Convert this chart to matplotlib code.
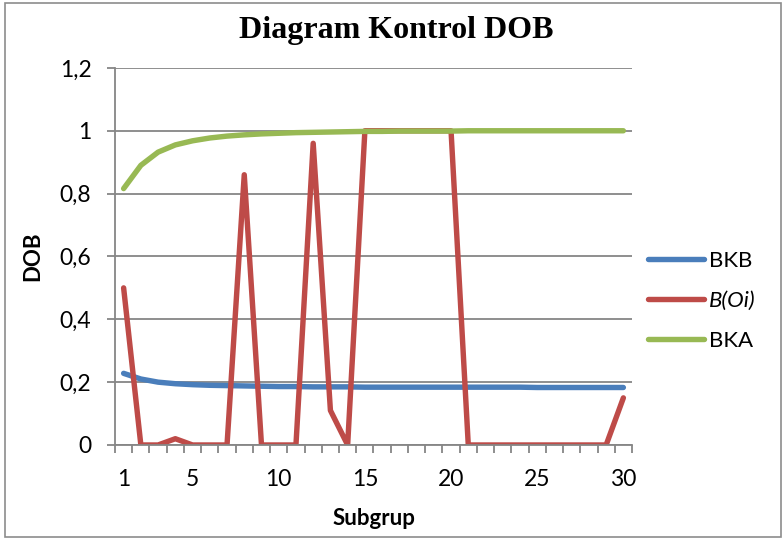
import matplotlib
matplotlib.use("Agg")
import matplotlib.pyplot as plt
from matplotlib.ticker import FuncFormatter, FixedLocator

subgrup = list(range(1, 31))
bkb = [0.228, 0.21, 0.200, 0.195, 0.192, 0.190, 0.189, 0.188, 0.187, 0.186,
       0.186, 0.185, 0.185, 0.185, 0.184, 0.184, 0.184, 0.184, 0.184, 0.184,
       0.184, 0.184, 0.184, 0.184, 0.183, 0.183, 0.183, 0.183, 0.183, 0.183]
b_oi = [0.50, 0.0, 0.0, 0.02, 0.0, 0.0, 0.0, 0.86, 0.0, 0.0,
        0.0, 0.96, 0.11, 0.0, 1.0, 1.0, 1.0, 1.0, 1.0, 1.0,
        0.0, 0.0, 0.0, 0.0, 0.0, 0.0, 0.0, 0.0, 0.0, 0.15]
bka = [0.816, 0.890, 0.932, 0.955, 0.968, 0.977, 0.983, 0.987, 0.990, 0.992,
       0.994, 0.995, 0.996, 0.997, 0.998, 0.998, 0.999, 0.999, 0.999, 0.999,
       1.0, 1.0, 1.0, 1.0, 1.0, 1.0, 1.0, 1.0, 1.0, 1.0]
x_labels = [1, 5, 10, 15, 20, 25, 30]

plt.rcParams['font.family'] = ['Lato', 'DejaVu Sans']

fig = plt.figure(figsize=(7.84, 5.39), dpi=100)
fig.patches.append(plt.Rectangle((0.006, 0.004), 0.99, 0.99, transform=fig.transFigure,
                                 fill=False, edgecolor='#8c8c8c', linewidth=1.2))
ax = fig.add_axes([0.1467, 0.1744, 0.6594, 0.6996])

lw = 3.9
ax.plot(subgrup, bkb, color='#4a7ebb', linewidth=lw, label='BKB', solid_capstyle='round')
ax.plot(subgrup, b_oi, color='#be4b48', linewidth=lw, label='B(Oi)', solid_capstyle='round')
ax.plot(subgrup, bka, color='#98b954', linewidth=lw, label='BKA', solid_capstyle='round')

ax.set_xlim(0.5, 30.5)
ax.set_ylim(0, 1.2)
ax.set_yticks([0, 0.2, 0.4, 0.6, 0.8, 1.0, 1.2])
ax.yaxis.set_major_formatter(FuncFormatter(lambda v, p: ('%g' % round(v, 1)).replace('.', ',')))
ax.set_xticks(x_labels)
ax.xaxis.set_minor_locator(FixedLocator([i + 0.5 for i in range(0, 31)]))
ax.tick_params(axis='x', which='major', length=0, labelsize=16.5, pad=17)
ax.tick_params(axis='x', which='minor', length=6, width=1.3, color='#868686', direction='out')
ax.tick_params(axis='y', which='major', length=6, width=1.3, color='#868686', labelsize=16.5, pad=11)
ax.grid(axis='y', color='#868686', linewidth=1.3)
ax.set_axisbelow(True)
for s in ['top', 'right']:
    ax.spines[s].set_visible(False)
for s in ['left', 'bottom']:
    ax.spines[s].set_color('#868686')
    ax.spines[s].set_linewidth(1.3)

ax.set_xlabel('Subgrup', fontsize=16, fontweight='bold', labelpad=13)
ax.set_ylabel('DOB', fontsize=16, fontweight='bold', labelpad=12)
fig.text(0.506, 0.944, 'Diagram Kontrol DOB', fontsize=23, fontweight='bold',
         family='Liberation Serif', ha='center', va='center')

leg = ax.legend(loc='center left', bbox_to_anchor=(1.031, 0.382), frameon=False,
                fontsize=16, handlelength=2.5, labelspacing=0.9, handletextpad=0.25,
                borderpad=0, borderaxespad=0)
leg.get_texts()[1].set_fontstyle('italic')

plt.savefig('out.png', dpi=100)
plt.close()
